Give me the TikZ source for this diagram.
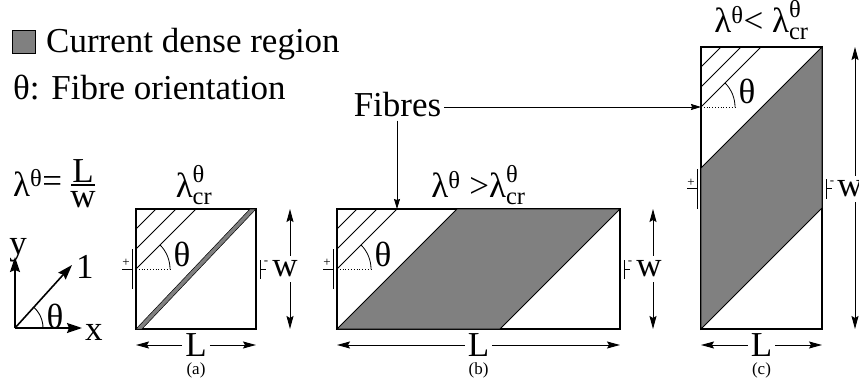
\documentclass[tikz,border=0pt]{standalone}
\usepackage{amsmath}
\usepackage{fontspec}
\setmainfont{Liberation Serif}
\usetikzlibrary{arrows.meta}

\begin{document}
\begin{tikzpicture}[x=1pt, y=1pt,
  every node/.style={font=\fontsize{35}{40}\selectfont, inner sep=0pt},
  box/.style={line width=1.3pt},
  dense/.style={fill=gray, draw=black, line width=0.9pt},
  fibre/.style={line width=0.8pt},
  plate/.style={line width=1pt},
  sign/.style={font=\fontsize{13}{13}\selectfont},
  tag/.style={font=\fontsize{17}{17}\selectfont},
  wlabel/.style={inner xsep=3pt, inner ysep=5pt},
  llabel/.style={inner xsep=3pt, inner ysep=0pt},
  dimtip/.style={-{Stealth[length=13pt, width=7pt, inset=2pt]}, line width=0.9pt},
  axis/.style={-{Stealth[length=15pt, width=10pt, inset=2pt]}, line width=1.6pt},
  fibtip/.style={-{Stealth[length=10pt, width=6pt, inset=1pt]}, line width=0.9pt}]

  \useasboundingbox (0,0) rectangle (859,378);

  %% Legend
  \node[draw, fill=gray, line width=0.8pt, minimum size=23pt] (key) at (23.5,336.5) {};
  \node[anchor=base west] (keytext) at (46,325) {Current dense region};
  \node[anchor=base west] (orient) at (13,278) {θ: Fibre orientation};

  %% Aspect ratio
  \node[anchor=base west] (ratio) at (13,182) {λ\textsuperscript{θ}\raisebox{4pt}{=}};
  \node[anchor=base] (ratioL) at (83,195) {L};
  \node[anchor=base] (ratiow) at (83,171) {w};
  \draw[line width=1.5pt] (71,193) -- (95,193);

  %% Axes
  \coordinate (orig) at (15,50);
  \node[anchor=base] (ylab) at (18,124) {y};
  \node[anchor=base west] (xlab) at (85,38) {x};
  \node[anchor=base west] (onelab) at (76,100) {1};
  \draw[axis] (orig) -- (15,121);
  \draw[axis] (orig) -- (82,50);
  \draw[axis] (orig) -- (72,113);
  \draw[line width=0.9pt] (orig) ++(28,0) arc[start angle=0, end angle=48, radius=28];
  \node (axtheta) at (55,62) {θ};

  %% Panel (a): critical ratio
  \begin{scope}[shift={(136,49)}]
    \draw[box] (0,0) rectangle (120,120);
    \filldraw[dense, line width=0.5pt] (0,0) -- (114,120) -- (120,120) -- (6,0) -- cycle;
    % fibres
    \foreach \k in {20,40,60}
      \draw[fibre] (0,120-\k) -- (\k,120);
    \coordinate (afib) at (0,60);
    \draw[fibre, dotted] (afib) -- ++(34,0);
    \draw[fibre] (afib) ++(34,0) arc[start angle=0, end angle=45, radius=34];
    \node (atheta) at (46,75) {θ};
    % electrodes
    \draw[plate] (-4,40) -- (-4,80);
    \draw[plate] (-14,60) -- (-4,60);
    \node[sign] (aplus) at (-10,66) {+};
    \draw[plate] (124,50.5) -- (124,69.5);
    \draw[plate] (124,60) -- (130,60);
    \node[sign] (aminus) at (130,66) {-};
    % dimensions
    \coordinate (awtop) at (154,120);
    \coordinate (awbot) at (154,0);
    \node[wlabel] (aw) at (149,60) {w};
    \draw[dimtip] (aw.north -| awtop) -- (awtop);
    \draw[dimtip] (aw.south -| awbot) -- (awbot);
    \node[llabel] (aL) at (60,-16) {L};
    \draw[dimtip] (aL) -- (0,-16);
    \draw[dimtip] (aL) -- (120,-16);
    \node[anchor=base] (alam) at (58,131) {$\text{λ}^{\text{θ}}_{\text{cr}}$};
    \node[tag] (atag) at (60,-41) {(a)};
  \end{scope}

  %% Panel (b): ratio above critical
  \begin{scope}[shift={(337,49)}]
    \draw[box] (0,0) rectangle (283,120);
    \filldraw[dense] (0,0) -- (120,120) -- (283,120) -- (163,0) -- cycle;
    % fibres
    \foreach \k in {20,40,60}
      \draw[fibre] (0,120-\k) -- (\k,120);
    \coordinate (bfib) at (60,120);
    \coordinate (bang) at (0,60);
    \draw[fibre, dotted] (bang) -- ++(34,0);
    \draw[fibre] (bang) ++(34,0) arc[start angle=0, end angle=45, radius=34];
    \node (btheta) at (46,75) {θ};
    % electrodes
    \draw[plate] (-4,40) -- (-4,80);
    \draw[plate] (-14,60) -- (-4,60);
    \node[sign] (bplus) at (-10,66) {+};
    \draw[plate] (287,50.5) -- (287,69.5);
    \draw[plate] (287,60) -- (293,60);
    \node[sign] (bminus) at (293,66) {-};
    % dimensions
    \coordinate (bwtop) at (316,120);
    \coordinate (bwbot) at (316,0);
    \node[wlabel] (bw) at (312,60) {w};
    \draw[dimtip] (bw.north -| bwtop) -- (bwtop);
    \draw[dimtip] (bw.south -| bwbot) -- (bwbot);
    \node[llabel] (bL) at (141.5,-16) {L};
    \draw[dimtip] (bL) -- (0,-16);
    \draw[dimtip] (bL) -- (283,-16);
    \node[anchor=base] (blam) at (141.5,131) {λ\textsuperscript{θ} >$\text{λ}^{\text{θ}}_{\text{cr}}$};
    \node[tag] (btag) at (141.5,-41) {(b)};
  \end{scope}

  %% Panel (c): ratio below critical
  \begin{scope}[shift={(701,49)}]
    \draw[box] (0,0) rectangle (121,282);
    \filldraw[dense] (0,161) -- (121,282) -- (121,121) -- (0,0) -- cycle;
    % fibres
    \foreach \k in {20,40,60}
      \draw[fibre] (0,282-\k) -- (\k,282);
    \coordinate (cfib) at (0,222);
    \draw[fibre, dotted] (cfib) -- ++(34,0);
    \draw[fibre] (cfib) ++(34,0) arc[start angle=0, end angle=45, radius=34];
    \node (ctheta) at (46,238) {θ};
    % electrodes
    \draw[plate] (-4,120) -- (-4,160);
    \draw[plate] (-14,140) -- (-4,140);
    \node[sign] (cplus) at (-10,146) {+};
    \draw[plate] (125,130.5) -- (125,149.5);
    \draw[plate] (125,140) -- (131,140);
    \node[sign] (cminus) at (131,146) {-};
    % dimensions
    \coordinate (cwtop) at (154,282);
    \coordinate (cwbot) at (154,0);
    \node[wlabel] (cw) at (149,140) {w};
    \draw[dimtip] (cw.north -| cwtop) -- (cwtop);
    \draw[dimtip] (cw.south -| cwbot) -- (cwbot);
    \node[llabel] (cL) at (60.5,-16) {L};
    \draw[dimtip] (cL) -- (0,-16);
    \draw[dimtip] (cL) -- (121,-16);
    \node[anchor=base] (clam) at (60.5,296) {λ\textsuperscript{θ}< $\text{λ}^{\text{θ}}_{\text{cr}}$};
    \node[tag] (ctag) at (60.5,-41) {(c)};
  \end{scope}

  %% Fibres pointer
  \node[anchor=base, inner sep=3pt] (fib) at (397.5,261) {Fibres};
  \draw[fibtip] (fib.south -| bfib) -- (bfib);
  \draw[fibtip] (fib.east |- cfib) -- (cfib);

\end{tikzpicture}
\end{document}
